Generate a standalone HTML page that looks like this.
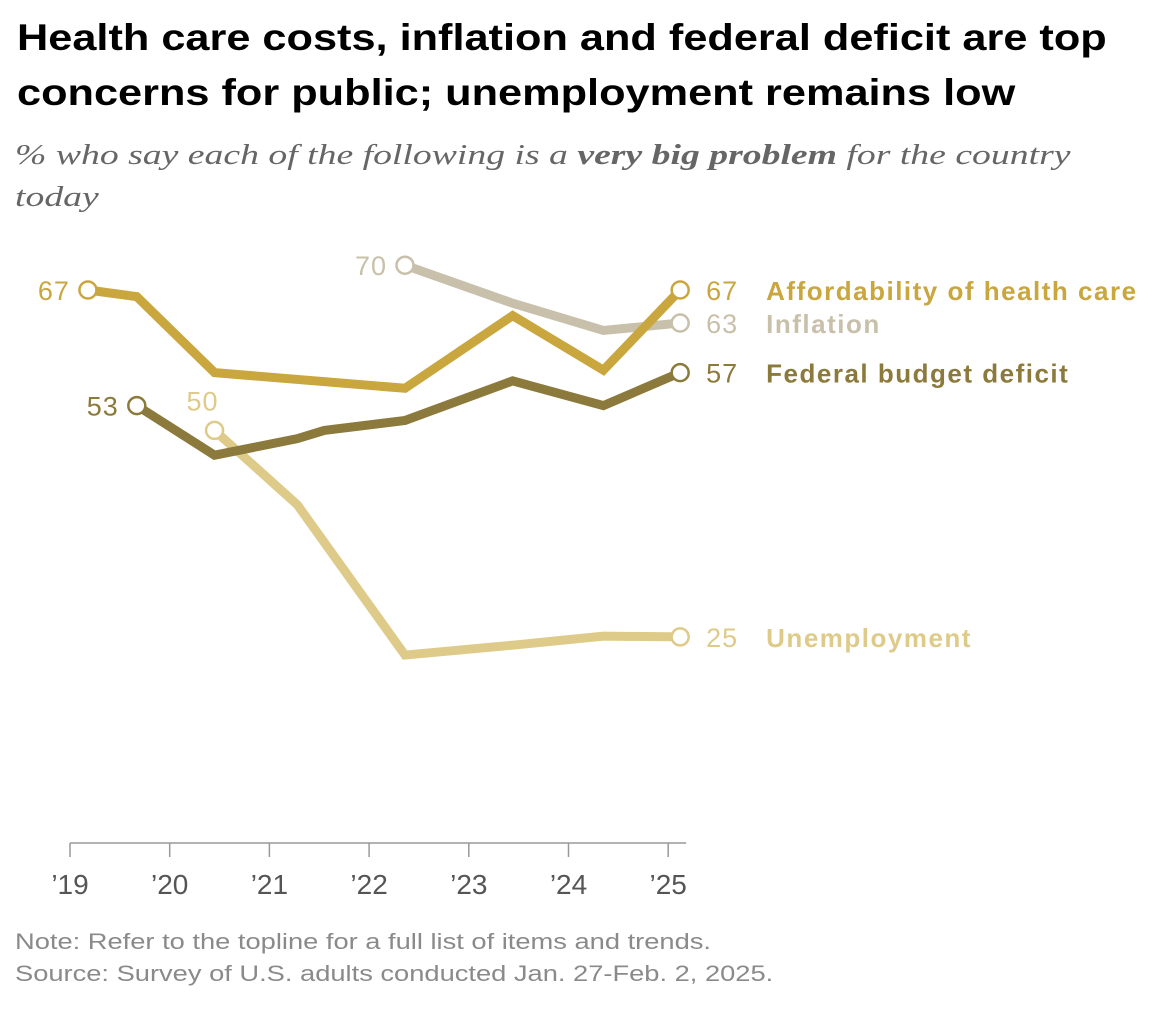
<!DOCTYPE html>
<html><head><meta charset="utf-8"><style>
body{margin:0;background:#fff;width:1154px;height:1010px;overflow:hidden;font-family:"Liberation Sans",sans-serif;}
.title{position:absolute;left:17px;top:10px;font-size:37px;font-weight:bold;line-height:55px;color:#000;transform-origin:0 0;transform:scaleX(1.17);white-space:nowrap}
.sub{position:absolute;left:15px;top:134px;font-family:"Liberation Serif",serif;font-style:italic;font-size:29px;line-height:42px;color:#666;transform-origin:0 0;transform:scaleX(1.3);white-space:nowrap}
.note{position:absolute;left:15px;top:926px;font-size:22px;line-height:32px;color:#8a8a8a;transform-origin:0 0;transform:scaleX(1.24);white-space:nowrap}
svg{position:absolute;left:0;top:0}
</style></head><body>
<div class="title">Health care costs, inflation and federal deficit are top<br>concerns for public; unemployment remains low</div>
<div class="sub">% who say each of the following is a <b>very big problem</b> for the country<br>today</div>
<div class="note">Note: Refer to the topline for a full list of items and trends.<br>Source: Survey of U.S. adults conducted Jan. 27-Feb. 2, 2025.</div>
<svg id="chart" width="1154" height="1010"></svg>
<script>
const tickLabels=["’19","’20","’21","’22","’23","’24","’25"];
const tickYears=[2019,2020,2021,2022,2023,2024,2025];
const healthX=[2019.18,2019.67,2020.45,2022.36,2023.44,2024.35,2025.12];
const healthY=[67,66.2,57,55.1,63.9,57.3,67];
const inflX=[2022.36,2023.44,2024.35,2025.12];
const inflY=[70,65.4,62.1,63];
const defX=[2019.67,2020.45,2021.28,2021.55,2022.36,2023.44,2024.35,2025.12];
const defY=[53,47,49,50,51.2,56,53,57];
const unX=[2020.45,2021.28,2022.36,2023.44,2024.35,2025.12];
const unY=[50,41,22.8,24,25.1,25];
const seriesNames=["Affordability of health care","Inflation","Federal budget deficit","Unemployment"];
const firstLabels=["67","70","53","50"];
const lastLabels=["67","63","57","25"];

const xs=y=>70+(y-2019)*99.7;
const ys=v=>290+(67-v)*8.26;
const svg=document.getElementById('chart');
const NS='http://www.w3.org/2000/svg';
function mk(t,a){const e=document.createElementNS(NS,t);for(const k in a)e.setAttribute(k,a[k]);svg.appendChild(e);return e;}
let ax=mk('line',{x1:70,x2:xs(2025.12)+6,y1:843,y2:843,stroke:'#999','stroke-width':1.5});


tickYears.forEach((y,i)=>{
  let t=mk('line',{x1:xs(y),x2:xs(y),y1:843,y2:857,stroke:'#999','stroke-width':1.5});
  
  
  let l=mk('text',{x:xs(y),y:894,'text-anchor':'middle','font-size':28,fill:'#555','font-family':'Liberation Sans, sans-serif'});
  l.textContent=tickLabels[i];
  
  
});
const series=[
 {x:healthX,y:healthY,c:'#C9A63E',key:'health',fl:'left'},
 {x:inflX,y:inflY,c:'#C8C0AA',key:'inflation',fl:'left'},
 {x:defX,y:defY,c:'#8C7A3C',key:'deficit',fl:'left'},
 {x:unX,y:unY,c:'#DECB8A',key:'unemployment',fl:'above'}
];
const order=[3,2,1,0];
order.forEach(i=>{
  const s=series[i];
  const pts=s.x.map((x,j)=>xs(x)+','+ys(s.y[j])).join(' ');
  let p=mk('polyline',{points:pts,fill:'none',stroke:s.c,'stroke-width':9,'stroke-linejoin':'miter'});
  
  
});
series.forEach((s,i)=>{
  const n=s.x.length;
  [0,n-1].forEach(j=>{
    let c=mk('circle',{cx:xs(s.x[j]),cy:ys(s.y[j]),r:8.5,fill:'#fff',stroke:s.c,'stroke-width':2.5});
    
    
  });
  let fx=xs(s.x[0]),fy=ys(s.y[0]);
  let f;
  if(s.fl==='above') f=mk('text',{x:fx-12,y:fy-20,'text-anchor':'middle','font-size':27,fill:s.c,'letter-spacing':1});
  else f=mk('text',{x:fx-18,y:fy+10,'text-anchor':'end','font-size':27,fill:s.c,'letter-spacing':1});
  f.textContent=firstLabels[i];
  
  
  let lx=xs(s.x[n-1]),ly=ys(s.y[n-1]);
  let v=mk('text',{x:lx+26,y:ly+10,'font-size':27,fill:s.c,'letter-spacing':1});
  v.textContent=lastLabels[i];
  
  
  let nm=mk('text',{x:lx+86,y:ly+10,'font-size':26,'font-weight':'bold',fill:s.c,'letter-spacing':1.5});
  nm.textContent=seriesNames[i];
  
  
});
</script>
</body></html>
